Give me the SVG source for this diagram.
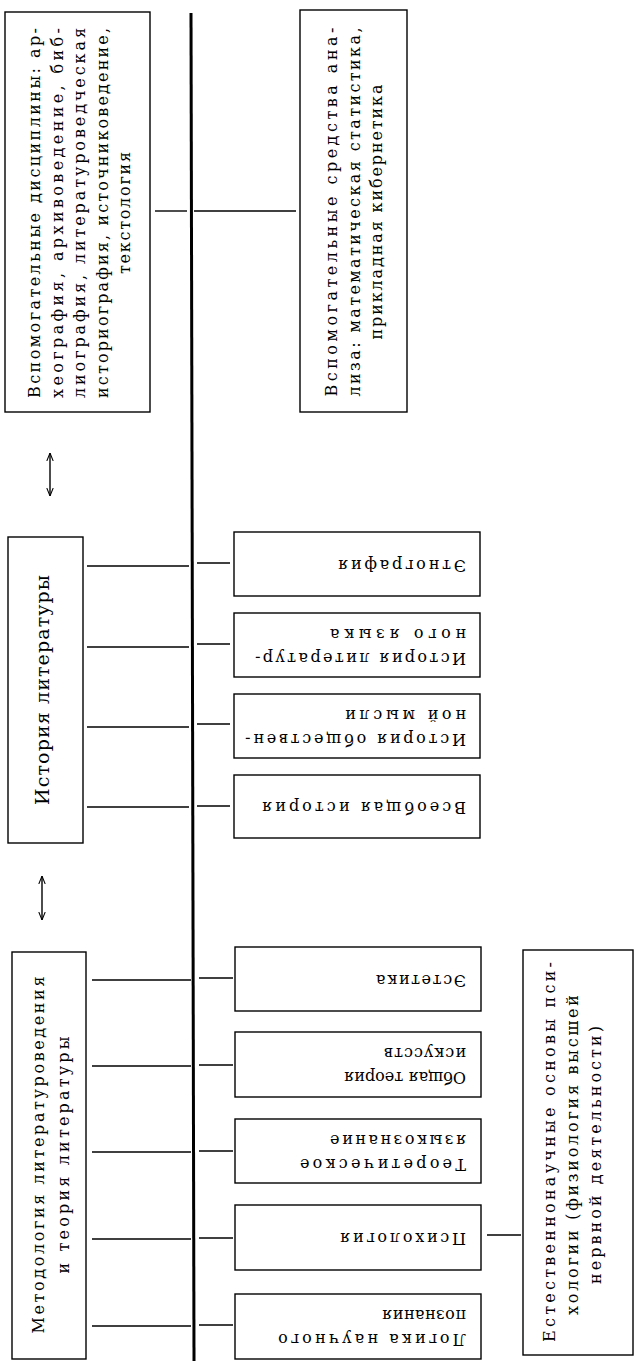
<svg xmlns="http://www.w3.org/2000/svg" width="635" height="1361" viewBox="0 0 635 1361">
<style>
.bx{fill:none;stroke:#000;stroke-width:1.4}
.ln{stroke:#000;stroke-width:1.4;fill:none}
.sp{stroke:#000;stroke-width:3}
.t{font-family:"DejaVu Serif","Liberation Serif",serif;font-size:16px;fill:#000}
.big{font-size:19px}
</style>
<defs>
<marker id="ah" viewBox="0 0 10 10" refX="10" refY="5" markerWidth="8" markerHeight="8" markerUnits="userSpaceOnUse" orient="auto-start-reverse">
<path d="M0,1 L10,5 L0,9" fill="none" stroke="#000" stroke-width="1.3"/>
</marker>
</defs>
<rect width="635" height="1361" fill="#fff"/>

<g id="connectors">
<line class="sp" x1="191" y1="13" x2="194" y2="1361"/>
<line class="ln" x1="155" y1="211" x2="187" y2="211"/>
<line class="ln" x1="194" y1="211" x2="296" y2="211"/>
<line class="ln" x1="87" y1="566" x2="189" y2="566"/>
<line class="ln" x1="87" y1="647" x2="189" y2="647"/>
<line class="ln" x1="87" y1="727" x2="189" y2="727"/>
<line class="ln" x1="87" y1="807" x2="189" y2="807"/>
<line class="ln" x1="197" y1="563" x2="230" y2="563"/>
<line class="ln" x1="197" y1="644" x2="230" y2="644"/>
<line class="ln" x1="197" y1="724" x2="230" y2="724"/>
<line class="ln" x1="197" y1="806" x2="230" y2="806"/>
<line class="ln" x1="92" y1="980" x2="191" y2="980"/>
<line class="ln" x1="92" y1="1066" x2="191" y2="1066"/>
<line class="ln" x1="92" y1="1152" x2="191" y2="1152"/>
<line class="ln" x1="92" y1="1239" x2="191" y2="1239"/>
<line class="ln" x1="92" y1="1326" x2="191" y2="1326"/>
<line class="ln" x1="199" y1="978" x2="233" y2="978"/>
<line class="ln" x1="199" y1="1065" x2="233" y2="1065"/>
<line class="ln" x1="199" y1="1151" x2="233" y2="1151"/>
<line class="ln" x1="199" y1="1238" x2="233" y2="1238"/>
<line class="ln" x1="199" y1="1325" x2="233" y2="1325"/>
<line class="ln" x1="487" y1="1235" x2="521" y2="1235"/>
<line class="ln" x1="50" y1="453" x2="50" y2="496" marker-start="url(#ah)" marker-end="url(#ah)"/>
<line class="ln" x1="42" y1="876" x2="42" y2="920" marker-start="url(#ah)" marker-end="url(#ah)"/>
</g>

<g id="aux-disciplines">
<rect class="bx" x="5" y="12" width="145" height="400"/>
<text class="t" transform="translate(40,213) rotate(-90)" text-anchor="middle" textLength="370" lengthAdjust="spacing">Вспомогательные дисциплины: ар-</text>
<text class="t" transform="translate(62.5,213) rotate(-90)" text-anchor="middle" textLength="370" lengthAdjust="spacing">хеография, архивоведение, биб-</text>
<text class="t" transform="translate(85,213) rotate(-90)" text-anchor="middle" textLength="370" lengthAdjust="spacing">лиография, литературоведческая</text>
<text class="t" transform="translate(107.5,213) rotate(-90)" text-anchor="middle" textLength="370" lengthAdjust="spacing">историография, источниковедение,</text>
<text class="t" transform="translate(130,213) rotate(-90)" text-anchor="middle" textLength="122" lengthAdjust="spacing">текстология</text>
</g>

<g id="aux-analysis">
<rect class="bx" x="300" y="10" width="107" height="402"/>
<text class="t" transform="translate(337,212) rotate(-90)" text-anchor="middle" textLength="369" lengthAdjust="spacing">Вспомогательные средства ана-</text>
<text class="t" transform="translate(360,212) rotate(-90)" text-anchor="middle" textLength="369" lengthAdjust="spacing">лиза: математическая статистика,</text>
<text class="t" transform="translate(382,212) rotate(-90)" text-anchor="middle" textLength="255" lengthAdjust="spacing">прикладная кибернетика</text>
</g>

<g id="lit-history">
<rect class="bx" x="8" y="537" width="75" height="306"/>
<text class="t big" transform="translate(49,690) rotate(-90)" text-anchor="middle" textLength="230" lengthAdjust="spacing">История литературы</text>
</g>

<g id="methodology">
<rect class="bx" x="12" y="952" width="74" height="407"/>
<text class="t" transform="translate(43.5,1155) rotate(-90)" text-anchor="middle" textLength="357" lengthAdjust="spacing">Методология литературоведения</text>
<text class="t" transform="translate(68.5,1155) rotate(-90)" text-anchor="middle" textLength="237" lengthAdjust="spacing">и теория литературы</text>
</g>

<g id="ethnography">
<rect class="bx" x="234" y="532" width="246" height="64"/>
<text class="t" transform="translate(466,560) rotate(180)" textLength="128" lengthAdjust="spacing">Этнография</text>
</g>
<g id="lit-language">
<rect class="bx" x="234" y="613" width="246" height="64"/>
<text class="t" transform="translate(466,652.5) rotate(180)" textLength="211" lengthAdjust="spacing">История литератур-</text>
<text class="t" transform="translate(466,628.5) rotate(180)" textLength="136" lengthAdjust="spacing">ного языка</text>
</g>
<g id="social-thought">
<rect class="bx" x="234" y="694" width="246" height="64"/>
<text class="t" transform="translate(466,733.5) rotate(180)" textLength="221" lengthAdjust="spacing">История обществен-</text>
<text class="t" transform="translate(466,709.5) rotate(180)" textLength="121" lengthAdjust="spacing">ной мысли</text>
</g>
<g id="world-history">
<rect class="bx" x="234" y="775" width="246" height="63"/>
<text class="t" transform="translate(466,802) rotate(180)" textLength="204" lengthAdjust="spacing">Всеобщая история</text>
</g>

<g id="aesthetics">
<rect class="bx" x="235" y="947" width="246" height="64"/>
<text class="t" transform="translate(466,974.5) rotate(180)" textLength="90" lengthAdjust="spacing">Эстетика</text>
</g>
<g id="art-theory">
<rect class="bx" x="235" y="1032" width="246" height="65"/>
<text class="t" transform="translate(466,1072) rotate(180)" textLength="122" lengthAdjust="spacing">Общая теория</text>
<text class="t" transform="translate(466,1048) rotate(180)" textLength="82" lengthAdjust="spacing">искусств</text>
</g>
<g id="linguistics">
<rect class="bx" x="235" y="1119" width="246" height="64"/>
<text class="t" transform="translate(466,1158.5) rotate(180)" textLength="166" lengthAdjust="spacing">Теоретическое</text>
<text class="t" transform="translate(466,1134.5) rotate(180)" textLength="136" lengthAdjust="spacing">языкознание</text>
</g>
<g id="psychology">
<rect class="bx" x="235" y="1205" width="246" height="65"/>
<text class="t" transform="translate(466,1233) rotate(180)" textLength="126" lengthAdjust="spacing">Психология</text>
</g>
<g id="logic">
<rect class="bx" x="235" y="1294" width="246" height="65"/>
<text class="t" transform="translate(466,1334) rotate(180)" textLength="188" lengthAdjust="spacing">Логика научного</text>
<text class="t" transform="translate(466,1310) rotate(180)" textLength="84" lengthAdjust="spacing">познания</text>
</g>

<g id="natural-science">
<rect class="bx" x="523" y="950" width="110" height="405"/>
<text class="t" transform="translate(554.5,1152) rotate(-90)" text-anchor="middle" textLength="380" lengthAdjust="spacing">Естественнонаучные основы пси-</text>
<text class="t" transform="translate(577.5,1155) rotate(-90)" text-anchor="middle" textLength="320" lengthAdjust="spacing">хологии (физиология высшей</text>
<text class="t" transform="translate(600.5,1155) rotate(-90)" text-anchor="middle" textLength="258" lengthAdjust="spacing">нервной деятельности)</text>
</g>
</svg>
